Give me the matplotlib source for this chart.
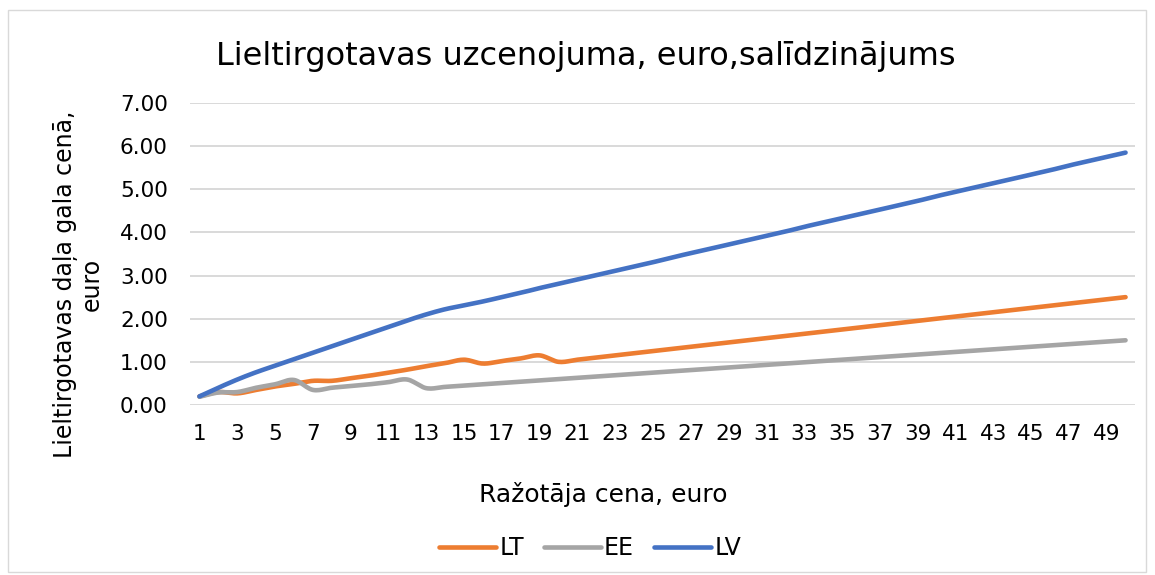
import numpy as np
import matplotlib
matplotlib.use("Agg")
import matplotlib.pyplot as plt
from matplotlib.patches import Rectangle

categories = list(range(1, 51))

lt = [0.20, 0.30, 0.27, 0.35, 0.43, 0.49, 0.56, 0.56, 0.62, 0.68,
      0.75, 0.82, 0.90, 0.97, 1.05, 0.96, 1.02, 1.08, 1.15, 1.00,
      1.05, 1.10, 1.15, 1.20, 1.25, 1.30, 1.35, 1.40, 1.45, 1.50,
      1.55, 1.60, 1.65, 1.70, 1.75, 1.80, 1.85, 1.90, 1.95, 2.00,
      2.05, 2.10, 2.15, 2.20, 2.25, 2.30, 2.35, 2.40, 2.45, 2.50]

ee = [0.19, 0.29, 0.30, 0.40, 0.48, 0.58, 0.35, 0.40, 0.44, 0.48,
      0.53, 0.59, 0.39, 0.42, 0.45, 0.48, 0.51, 0.54, 0.57, 0.60,
      0.63, 0.66, 0.69, 0.72, 0.75, 0.78, 0.81, 0.84, 0.87, 0.90,
      0.93, 0.96, 0.99, 1.02, 1.05, 1.08, 1.11, 1.14, 1.17, 1.20,
      1.23, 1.26, 1.29, 1.32, 1.35, 1.38, 1.41, 1.44, 1.47, 1.50]

lv = [0.20, 0.40, 0.59, 0.76, 0.91, 1.06, 1.21, 1.36, 1.51, 1.66,
      1.81, 1.96, 2.10, 2.22, 2.31, 2.40, 2.50, 2.60, 2.71, 2.81,
      2.91, 3.01, 3.11, 3.21, 3.31, 3.42, 3.52, 3.62, 3.72, 3.82,
      3.92, 4.02, 4.13, 4.23, 4.33, 4.43, 4.53, 4.63, 4.73, 4.84,
      4.94, 5.04, 5.14, 5.24, 5.34, 5.44, 5.55, 5.65, 5.75, 5.85]

series_names = ["LT", "EE", "LV"]
series_colors = ["#ED7D31", "#A5A5A5", "#4472C4"]
y_ticks = [0, 1, 2, 3, 4, 5, 6, 7]
x_tick_labels = [str(c) for c in categories[::2]]

title = "Lieltirgotavas uzcenojuma, euro,salīdzinājums"
xlabel = "Ražotāja cena, euro"
ylabel = "Lieltirgotavas daļa gala cenā,\neuro"


def smooth(x, y, n=12):
    x = np.asarray(x, float)
    y = np.asarray(y, float)
    px = np.concatenate([[2 * x[0] - x[1]], x, [2 * x[-1] - x[-2]]])
    py = np.concatenate([[2 * y[0] - y[1]], y, [2 * y[-1] - y[-2]]])
    xs, ys = [], []
    t = np.linspace(0, 1, n, endpoint=False)
    for i in range(1, len(px) - 2):
        p0, p1, p2, p3 = py[i - 1], py[i], py[i + 1], py[i + 2]
        q0, q1, q2, q3 = px[i - 1], px[i], px[i + 1], px[i + 2]
        t2, t3 = t * t, t * t * t
        ys.append(0.5 * (2 * p1 + (-p0 + p2) * t + (2 * p0 - 5 * p1 + 4 * p2 - p3) * t2 + (-p0 + 3 * p1 - 3 * p2 + p3) * t3))
        xs.append(0.5 * (2 * q1 + (-q0 + q2) * t + (2 * q0 - 5 * q1 + 4 * q2 - q3) * t2 + (-q0 + 3 * q1 - 3 * q2 + q3) * t3))
    xs.append([x[-1]])
    ys.append([y[-1]])
    return np.concatenate(xs), np.concatenate(ys)


W, H = 1155, 575
fig = plt.figure(figsize=(W / 100, H / 100), dpi=100)
ax = fig.add_axes([190 / W, 1 - 405 / H, (1135 - 190) / W, (405 - 103) / H])

for name, vals, col in zip(series_names, [lt, ee, lv], series_colors):
    sx, sy = smooth(categories, vals)
    ax.plot(sx, sy, color=col, lw=3.3, solid_capstyle="round", label=name)

ax.set_xlim(0.5, 50.5)
ax.set_ylim(0, 7)
ax.set_yticks(y_ticks)
ax.set_yticklabels([f"{v:.2f}" for v in y_ticks])
ax.set_xticks(categories[::2])
ax.set_xticklabels(x_tick_labels)
ax.grid(axis="y", color="#D9D9D9", lw=1.4)
ax.set_axisbelow(True)
for s in ax.spines.values():
    s.set_visible(False)
ax.tick_params(length=0, labelsize=15.5, colors="black")
ax.tick_params(axis="y", pad=16)
ax.tick_params(axis="x", pad=14)

fig.text(586 / W, 1 - 65 / H, title, ha="center", va="baseline", fontsize=23)
fig.text(603 / W, 1 - 502 / H, xlabel, ha="center", va="baseline", fontsize=18)
fig.text(78 / W, 1 - 284 / H, ylabel, ha="center", va="center", fontsize=17,
         rotation=90, multialignment="center", linespacing=1.1)

leg = fig.legend(loc="center", bbox_to_anchor=(590 / W, 1 - 548 / H), ncol=3,
                 frameon=False, fontsize=17, handlelength=2.4, handletextpad=0.15,
                 columnspacing=0.85)

fig.add_artist(Rectangle((8 / W, 1 - 572 / H), (1146 - 8) / W, (572 - 10) / H,
                         transform=fig.transFigure, fill=False,
                         edgecolor="#D9D9D9", lw=1.0))

fig.savefig("out.png", dpi=100)
